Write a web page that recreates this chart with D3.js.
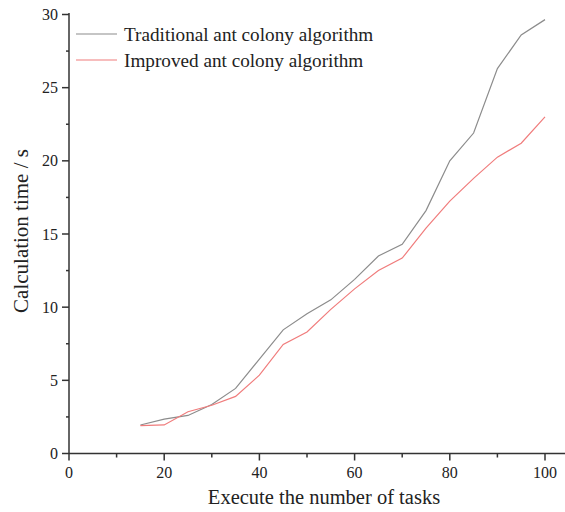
<!DOCTYPE html>
<html>
<head>
<meta charset="utf-8">
<script src="https://cdn.jsdelivr.net/npm/d3@7"></script>
<style>
  body { margin: 0; background: #fff; }
  svg text { font-family: "Liberation Serif", "Times New Roman", serif; fill: #222; }
</style>
</head>
<body>
<div id="canvas"></div>
<script>
"use strict"

let svgWidth = 565
let svgHeight = 512

/* data */
let tasks = [15, 20, 25, 30, 35, 40, 45, 50, 55, 60, 65, 70, 75, 80, 85, 90, 95, 100]
let traditional = [1.95, 2.35, 2.6, 3.35, 4.45, 6.45, 8.45, 9.55, 10.5, 11.9, 13.5, 14.3, 16.6, 20.0, 21.9, 26.3, 28.6, 29.65]
let improved = [1.9, 1.95, 2.85, 3.3, 3.9, 5.35, 7.45, 8.3, 9.85, 11.25, 12.5, 13.35, 15.4, 17.25, 18.8, 20.25, 21.2, 23.0]
let seriesNames = ["Traditional ant colony algorithm", "Improved ant colony algorithm"]
let seriesColors = ["#8c8c8c", "#f07c7c"]
let xTicks = [0, 20, 40, 60, 80, 100]
let yTicks = [0, 5, 10, 15, 20, 25, 30]

let plotLeft = 69, plotBottom = 453.5, plotTop = 14.5, plotRight = 545

let svg = d3.select("#canvas")
    .append("svg")
    .attr("width", svgWidth)
    .attr("height", svgHeight)

let xScale = d3.scaleLinear()
    .domain([0, 100])
    .range([plotLeft, plotRight])

let yScale = d3.scaleLinear()
    .domain([0, 30])
    .range([plotBottom, plotTop])

/* axis lines */
svg.append("line")
   .attr("x1", plotLeft).attr("x2", svgWidth)
   .attr("y1", plotBottom).attr("y2", plotBottom)
   .attr("stroke", "#333").attr("stroke-width", 1.5)

svg.append("line")
   .attr("x1", plotLeft).attr("x2", plotLeft)
   .attr("y1", plotTop - 1.5).attr("y2", plotBottom)
   .attr("stroke", "#333").attr("stroke-width", 1.5)

/* x ticks, major and minor */
svg.selectAll(".xMinor")
   .data(d3.range(10, 100, 20))
   .join("line")
   .attr("x1", d => xScale(d)).attr("x2", d => xScale(d))
   .attr("y1", plotBottom).attr("y2", plotBottom + 4)
   .attr("stroke", "#333").attr("stroke-width", 1.5)

svg.selectAll(".xMajor")
   .data(xTicks)
   .join("line")
   .attr("x1", d => xScale(d)).attr("x2", d => xScale(d))
   .attr("y1", plotBottom).attr("y2", plotBottom + 7)
   .attr("stroke", "#333").attr("stroke-width", 1.5)

svg.selectAll(".xLabel")
   .data(xTicks)
   .join("text")
   .attr("x", d => xScale(d))
   .attr("y", plotBottom + 24)
   .attr("text-anchor", "middle")
   .attr("font-size", "16px")
   .text(d => d)

/* y ticks */
svg.selectAll(".yMinor")
   .data(d3.range(2.5, 30, 5))
   .join("line")
   .attr("x1", plotLeft - 3).attr("x2", plotLeft)
   .attr("y1", d => yScale(d)).attr("y2", d => yScale(d))
   .attr("stroke", "#333").attr("stroke-width", 1.5)

svg.selectAll(".yMajor")
   .data(yTicks)
   .join("line")
   .attr("x1", plotLeft - 7).attr("x2", plotLeft)
   .attr("y1", d => yScale(d)).attr("y2", d => yScale(d))
   .attr("stroke", "#333").attr("stroke-width", 1.5)

svg.selectAll(".yLabel")
   .data(yTicks)
   .join("text")
   .attr("x", plotLeft - 11)
   .attr("y", d => yScale(d))
   .attr("dy", "0.35em")
   .attr("text-anchor", "end")
   .attr("font-size", "16px")
   .text(d => d)

/* axis titles */
svg.append("text")
   .attr("x", 324)
   .attr("y", 504)
   .attr("text-anchor", "middle")
   .attr("font-size", "20.5px")
   .text("Execute the number of tasks")

svg.append("text")
   .attr("transform", "translate(28, 231) rotate(-90)")
   .attr("text-anchor", "middle")
   .attr("font-size", "21px")
   .text("Calculation time / s")

/* lines */
let line = d3.line()
    .x((d, i) => xScale(tasks[i]))
    .y(d => yScale(d))

let allSeries = [traditional, improved]

svg.selectAll(".series")
   .data(allSeries)
   .join("path")
   .attr("d", d => line(d))
   .attr("fill", "none")
   .attr("stroke", (d, i) => seriesColors[i])
   .attr("stroke-width", 1.2)

/* legend */
seriesNames.forEach(function(name, i) {
   let ly = 34 + i * 26
   svg.append("line")
      .attr("x1", 76).attr("x2", 117)
      .attr("y1", ly).attr("y2", ly)
      .attr("stroke", seriesColors[i])
      .attr("stroke-width", 1.2)
   svg.append("text")
      .attr("x", 124)
      .attr("y", ly + 7)
      .attr("font-size", "19.2px")
      .text(name)
})
</script>
</body>
</html>
